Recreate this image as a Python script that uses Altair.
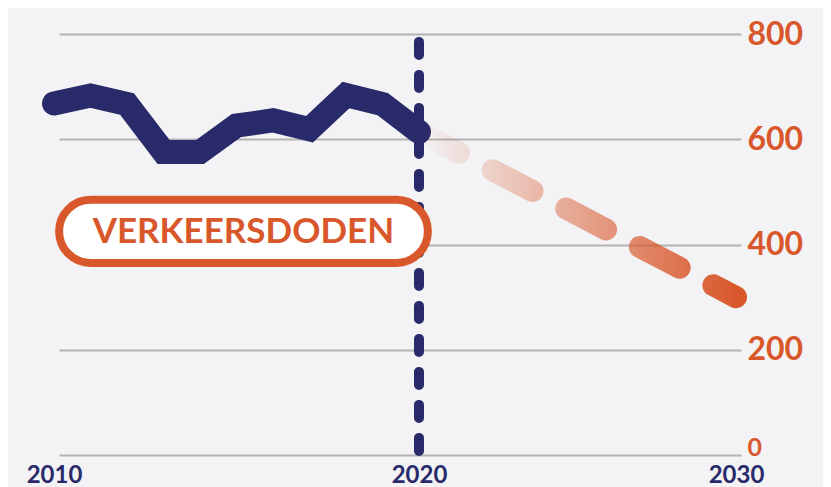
import altair as alt
import pandas as pd

# --- data ---
hist_years = [2010, 2011, 2012, 2013, 2014, 2015, 2016, 2017, 2018, 2019, 2020]
hist_values = [668, 683, 667, 576, 576, 626, 636, 619, 684, 667, 614]
forecast_years = [2020, 2030]
forecast_values = [614, 300]
y_ticks = [0, 200, 400, 600, 800]
x_ticks = [2010, 2020, 2030]
label_text = "VERKEERSDODEN"

NAVY = "#282a69"
ORANGE = "#d9582b"
BG = "#f3f3f6"

hist = pd.DataFrame({"year": hist_years, "value": hist_values})
fc = pd.DataFrame({"year": forecast_years, "value": forecast_values})
rule_df = pd.DataFrame({"year": [2020], "value": [785], "bottom": [0]})
pill_df = pd.DataFrame({"year": [2010.14], "x2": [2020.28], "value": [365], "y2": [485]})
text_df = pd.DataFrame({"year": [2015.19], "value": [424], "t": [label_text]})

xscale = alt.Scale(domain=[2010, 2020, 2030], range=[0, 365, 682])
yscale = alt.Scale(domain=[0, 800], nice=False, zero=True)

x_axis = alt.Axis(values=x_ticks, format="d", title=None, grid=False, ticks=False,
                  domain=False, labelFont="Lato", labelFontWeight="bold",
                  labelFontSize=24, labelColor=NAVY, labelPadding=8,
                  labelFlush=False)
y_axis = alt.Axis(values=y_ticks, orient="right", title=None, ticks=False, domain=False,
                  grid=True, gridColor="#b3b3b3", gridWidth=2,
                  labelFont="Lato", labelFontWeight="bold",
                  labelFontSize=alt.condition("datum.value == 0", alt.value(25), alt.value(32)),
                  labelColor=ORANGE, labelPadding=6, labelAlign="left",
                  labelOffset=alt.condition("datum.value == 0", alt.value(-8), alt.value(0)))

X = alt.X("year:Q", scale=xscale, axis=x_axis)
Y = alt.Y("value:Q", scale=yscale, axis=y_axis)

rule = alt.Chart(rule_df).mark_rule(
    color=NAVY, strokeWidth=10, strokeCap="round", strokeDash=[13, 20]
).encode(x=X, y=Y, y2="bottom:Q")

hist_line = alt.Chart(hist).mark_line(
    color=NAVY, strokeWidth=24, strokeCap="round", strokeJoin="miter"
).encode(x=X, y=Y)

grad = alt.LinearGradient(
    gradient="linear",
    stops=[alt.GradientStop(color="rgba(217,88,43,0)", offset=0),
           alt.GradientStop(color="rgba(217,88,43,1)", offset=1)],
    x1=0, x2=1, y1=0, y2=0,
)

fc_line = alt.Chart(fc).mark_line(
    stroke=grad, strokeWidth=22, strokeCap="round", strokeDash=[45, 38]
).encode(x=X, y=Y)

pill = alt.Chart(pill_df).mark_rect(
    fill="white", stroke=ORANGE, strokeWidth=8, cornerRadius=31.5
).encode(x=X, x2="x2:Q", y=Y, y2="y2:Q")

txt = alt.Chart(text_df).mark_text(
    font="Lato", fontWeight="bold", fontSize=35, color=ORANGE,
    align="center", baseline="middle"
).encode(x=X, y=Y, text="t:N")

chart = alt.layer(rule, hist_line, fc_line, pill, txt).properties(
    width=687, height=421,
    autosize=alt.AutoSizeParams(type="none"),
    padding={"left": 46, "top": 26, "right": 82, "bottom": 32},
    background=BG,
).configure_view(stroke=None)

chart.save("out.html", embed_options={"renderer": "svg", "actions": False})
